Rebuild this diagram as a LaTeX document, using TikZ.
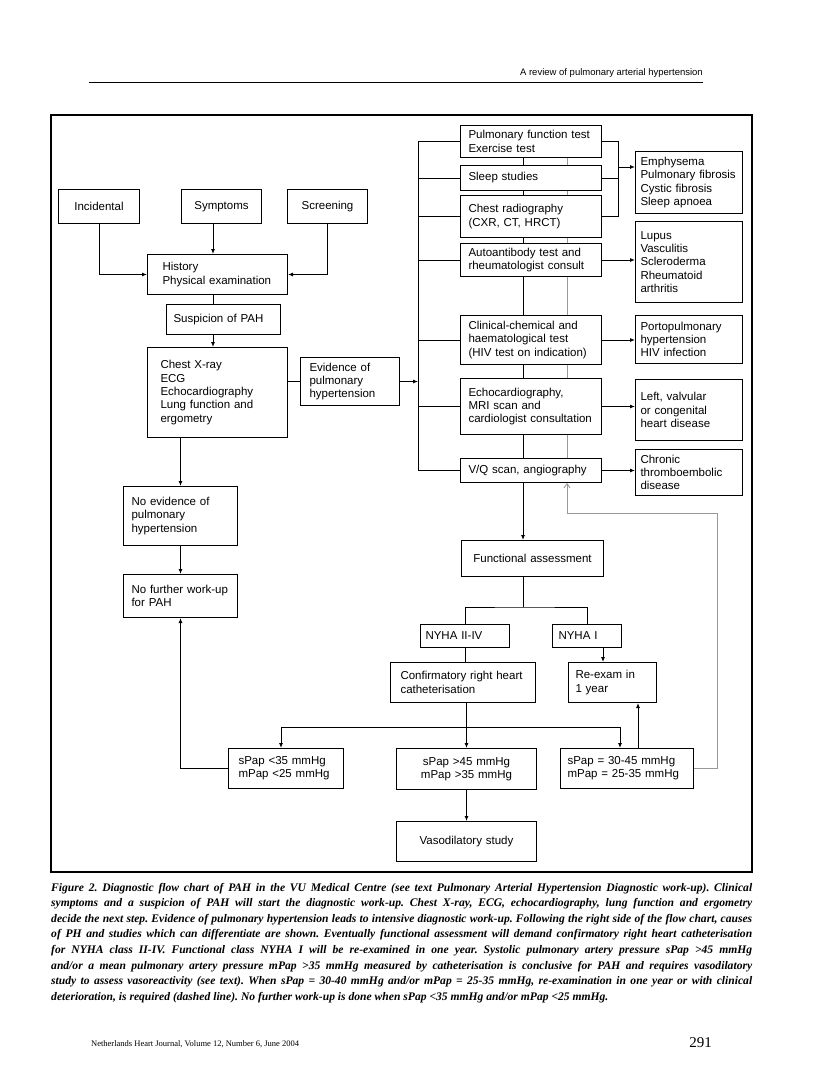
\documentclass[tikz,border=0pt]{standalone}
\usepackage{fontspec}
\setmainfont{Liberation Serif}
\newfontfamily\dsans{Liberation Sans}
\usepackage{graphicx}
\usetikzlibrary{arrows.meta,calc}
\pgfdeclarelayer{paper}
\pgfdeclarelayer{behind}
\pgfsetlayers{paper,behind,main}
\frenchspacing
\tikzset{
  box/.style={draw, line width=1pt, fill=white, anchor=north west, inner ysep=0pt,
    font=\dsans\fontsize{11.5}{13.3}\selectfont,
    execute at begin node={\hyphenpenalty=10000\exhyphenpenalty=10000}},
  conn/.style={line width=0.9pt},
  arr/.style={conn, -{Latex[length=5pt,width=4pt]}},
  grayline/.style={line width=0.9pt, draw=black!40},
  garr/.style={-{Straight Barb[length=4pt,width=6pt]}},
  capline/.style={anchor=base west, inner sep=0pt, font=\bfseries\itshape\fontsize{11.6}{15.6}\selectfont}
}
\newcommand{\bx}[8]{%
  \pgfmathsetmacro{\bxw}{#4-#2-2*#6}%
  \pgfmathsetmacro{\bxh}{#5-#3}%
  \node[box, align=#7, text width=\bxw pt, inner xsep=#6 pt, minimum height=\bxh pt] (#1) at (#2,#3) {#8};}
\begin{document}
\begin{tikzpicture}[x=1pt,y=-1pt]
\useasboundingbox (0,0) rectangle (816,1092);
\begin{pgfonlayer}{paper}
\fill[white] (0,0) rectangle (816,1092);
\end{pgfonlayer}

% header
\node[anchor=base east, inner sep=0pt, font=\dsans\fontsize{9.5}{11}\selectfont] (hdr) at (703,75) {A review of pulmonary arterial hypertension};
\draw[line width=0.8pt] (89,82) -- (703,82);

% frame
\draw[line width=1.2pt] (51,115) rectangle (752,872);

% boxes
\bx{inc}{58}{189}{139}{223}{4}{center}{Incidental}
\bx{sym}{181}{189}{261}{223}{4}{center}{Symptoms}
\bx{scr}{287}{189}{367}{223}{4}{center}{Screening}
\bx{hist}{147}{254}{287}{294}{15}{left}{History\\Physical~examination}
\bx{susp}{166}{304}{280}{334}{7}{left}{Suspicion~of~PAH}
\bx{cxr}{147}{347}{287}{437}{13}{left}{Chest~X-ray\\ECG\\Echocardiography\\Lung~function~and\\ergometry}
\bx{ev}{300}{357}{399}{405}{9}{left}{Evidence~of\\pulmonary\\hypertension}
\bx{pft}{460}{125}{601}{157}{8}{left}{Pulmonary~function~test\\Exercise~test}
\bx{sleep}{460}{165}{601}{190}{8}{left}{Sleep~studies}
\bx{crad}{460}{195}{601}{237}{8}{left}{Chest~radiography\\(CXR,~CT,~HRCT)}
\bx{auto}{460}{243}{601}{276}{8}{left}{Autoantibody~test~and\\rheumatologist~consult}
\bx{clin}{460}{315}{601}{364}{8}{left}{Clinical-chemical~and\\haematological~test\\(HIV~test~on~indication)}
\bx{echo}{460}{378}{601}{434}{8}{left}{Echocardiography,\\MRI~scan~and\\cardiologist~consultation}
\bx{vq}{460}{458}{601}{482}{8}{left}{V/Q~scan,~angiography}
\bx{emph}{635}{151}{742}{213}{5}{left}{Emphysema\\Pulmonary~fibrosis\\Cystic~fibrosis\\Sleep~apnoea}
\bx{lupus}{635}{221}{742}{302}{5}{left}{Lupus\\Vasculitis\\Scleroderma\\Rheumatoid\\arthritis}
\bx{porto}{635}{315}{742}{363}{5}{left}{Portopulmonary\\hypertension\\HIV~infection}
\bx{leftv}{635}{379}{742}{440}{5}{left}{Left,~valvular\\or~congenital\\heart~disease}
\bx{chron}{635}{449}{742}{495}{5}{left}{Chronic\\thromboembolic\\disease}
\bx{ne}{123}{486}{237}{545}{8}{left}{No~evidence~of\\pulmonary\\hypertension}
\bx{nf}{123}{574}{237}{617}{8}{left}{No~further~work-up\\for~PAH}
\bx{fa}{461}{540}{603}{576}{4}{center}{Functional~assessment}
\bx{ny2}{420}{624}{509}{647}{5}{left}{NYHA~II-IV}
\bx{ny1}{552}{624}{621}{647}{6}{left}{NYHA~I}
\bx{conf}{390}{662}{535}{702}{10}{left}{Confirmatory~right~heart\\catheterisation}
\bx{reex}{568}{662}{656}{702}{7}{left}{Re-exam~in\\1~year}
\bx{s35}{228}{748}{343}{788}{10}{left}{sPap~<35~mmHg\\mPap~<25~mmHg}
\bx{s45}{396}{748}{536}{789}{4}{center}{sPap~>45~mmHg\\mPap~>35~mmHg}
\bx{s30}{560}{748}{693}{788}{7}{left}{sPap~=~30-45~mmHg\\mPap~=~25-35~mmHg}
\bx{vaso}{396}{821}{536}{861}{4}{center}{Vasodilatory~study}

% helper coordinates
\coordinate (cx) at (213,0);
\coordinate (cl) at (418,0);
\coordinate (mx) at (523,0);
\coordinate (gx) at (567,0);
\coordinate (jx) at (618,0);
\coordinate (j1) at (618,167);
\coordinate (fy) at (523,607);
\coordinate (nx) at (603,0);
\coordinate (a35) at (281,727);
\coordinate (a30) at (620,727);
\coordinate (ux) at (638,0);
\coordinate (rx) at (717,513);

% top-left flow
\draw[arr] (inc.south) |- (hist.west);
\draw[arr] (scr.south) |- (hist.east);
\draw[arr] (sym.south -| cx) -- (hist.north -| cx);
\draw[conn] (hist.south -| cx) -- (susp.north -| cx);
\draw[arr] (susp.south -| cx) -- (cxr.north -| cx);
\draw[conn] (cxr.east |- ev.west) -- (ev.west);
\draw[arr] (ev.east) -- (ev.east -| cl);

% left column bus
\draw[conn] (pft.west -| cl) -- (vq.west -| cl);
\foreach \n in {pft,sleep,crad,auto,clin,echo,vq} \draw[conn] (\n.west -| cl) -- (\n.west);

% lines running behind the test boxes
\begin{pgfonlayer}{behind}
\draw[conn] (pft.south -| mx) -- (vq.south -| mx);
\draw[grayline] (pft.south -| gx) -- (vq.south -| gx);
\end{pgfonlayer}
\draw[arr] (vq.south -| mx) -- (fa.north -| mx);

% right side
\draw[conn] (pft.east) -- (pft.east -| jx) -- (crad.east -| jx) -- (crad.east);
\draw[conn] (sleep.east) -- (sleep.east -| jx);
\draw[arr] (j1) -- (j1 -| emph.west);
\draw[arr] (auto.east) -- (auto.east -| lupus.west);
\draw[arr] (clin.east) -- (clin.east -| porto.west);
\draw[arr] (echo.east) -- (echo.east -| leftv.west);
\draw[arr] (vq.east) -- (vq.east -| chron.west);

% left column
\draw[arr] (cxr.south -| ne.north) -- (ne.north);
\draw[arr] (ne.south) -- (nf.north);
\draw[arr] (s35.west) -| (nf.south);

% functional assessment
\draw[conn] (fa.south -| mx) -- (fy);
\draw[conn] (ny2.north) |- (fy) -| (ny1.north);
\draw[conn] (ny2.south) -- (ny2.south |- conf.north);
\draw[arr] (ny1.south -| nx) -- (reex.north -| nx);
\draw[arr] (conf.south -| s45.north) -- (s45.north);
\draw[conn] (a35) -- (a30);
\draw[arr] (a35) -- (a35 |- s35.north);
\draw[arr] (a30) -- (a30 |- s30.north);
\draw[arr] (s30.north -| ux) -- (reex.south -| ux);
\draw[arr] (s45.south) -- (vaso.north);

% grey return line
\draw[grayline, garr] (s30.east) -| (rx) -| (vq.south -| gx);

% caption
\node[capline] (c1) at (51,891) {\makebox[701pt][s]{Figure 2. Diagnostic flow chart of PAH in the VU Medical Centre (see text Pulmonary Arterial Hypertension Diagnostic work-up). Clinical}};
\node[capline] (c2) at (51,906.6) {\makebox[701pt][s]{symptoms and a suspicion of PAH will start the diagnostic work-up. Chest X-ray, ECG, echocardiography, lung function and ergometry}};
\node[capline] (c3) at (51,922.2) {\makebox[701pt][s]{decide the next step. Evidence of pulmonary hypertension leads to intensive diagnostic work-up. Following the right side of the flow chart, causes}};
\node[capline] (c4) at (51,937.8) {\makebox[701pt][s]{of PH and studies which can differentiate are shown. Eventually functional assessment will demand confirmatory right heart catheterisation}};
\node[capline] (c5) at (51,953.4) {\makebox[701pt][s]{for NYHA class II-IV. Functional class NYHA I will be re-examined in one year. Systolic pulmonary artery pressure sPap >45 mmHg}};
\node[capline] (c6) at (51,969.0) {\makebox[701pt][s]{and/or a mean pulmonary artery pressure mPap >35 mmHg measured by catheterisation is conclusive for PAH and requires vasodilatory}};
\node[capline] (c7) at (51,984.6) {\makebox[701pt][s]{study to assess vasoreactivity (see text). When sPap = 30-40 mmHg and/or mPap = 25-35 mmHg, re-examination in one year or with clinical}};
\node[capline] (c8) at (51,1000.2) {deterioration, is required (dashed line). No further work-up is done when sPap <35 mmHg and/or mPap <25 mmHg.};

% footer
\node[anchor=base west, inner sep=0pt, font=\fontsize{8.5}{10}\selectfont] (foot) at (91,1046) {Netherlands Heart Journal, Volume 12, Number 6, June 2004};
\node[anchor=base east, inner sep=0pt, font=\fontsize{15}{18}\selectfont] (pg) at (712,1047) {291};
\end{tikzpicture}
\end{document}
